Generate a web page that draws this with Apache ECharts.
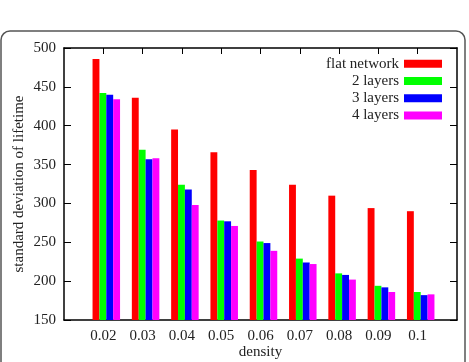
<!DOCTYPE html>
<html lang="en">
<head>
<meta charset="UTF-8">
<title>Document</title>
<style>
  html, body { margin: 0; padding: 0; background: #fff; }
  #chart { width: 469px; height: 362px; }
</style>
</head>
<body>
<div id="chart"></div>
<script src="https://cdn.jsdelivr.net/npm/echarts@6/dist/echarts.min.js"></script>
<script>
    // densities shown on x axis (axis runs from 0.01 to 0.11)
    let densities = ['0.02', '0.03', '0.04', '0.05', '0.06', '0.07', '0.08', '0.09', '0.1'];
    let flatNetwork = [486, 436, 395, 366, 343, 324, 310, 294, 290];
    let layers2 = [442, 369, 324, 278, 251, 229, 210, 194, 186];
    let layers3 = [440, 357, 318, 277, 249, 224, 208, 192, 182];
    let layers4 = [434, 358, 298, 271, 239, 222, 202, 186, 183];
    let seriesNames = ['flat network', '2 layers', '3 layers', '4 layers'];
    let colors = ['#ff0000', '#00ff00', '#0000ff', '#ff00ff'];
    let yTicks = [150, 200, 250, 300, 350, 400, 450, 500];

    let font = 'Liberation Serif';
    let axisCats = ['0.01'].concat(densities, ['0.11']);
    let pad = arr => [null].concat(arr, [null]);
    let inner = (i) => i > 0 && i < axisCats.length - 1;

    var myChart = echarts.init(document.getElementById('chart'));

    let valueAxis = (idx, pos, showLabel) => ({
        type: 'value',
        gridIndex: idx,
        position: pos,
        min: yTicks[0],
        max: yTicks[yTicks.length - 1],
        interval: 50,
        axisLine: { show: true, lineStyle: { color: '#000', width: 1.5 } },
        axisTick: { show: true, inside: true, length: 7, lineStyle: { color: '#000', width: 1 } },
        axisLabel: { show: showLabel, color: '#222', fontFamily: font, fontSize: 15, margin: 8 },
        splitLine: { show: false }
    });

    myChart.setOption({
        animation: false,
        graphic: [{
            type: 'rect',
            shape: { x: 1, y: 31, width: 464, height: 345, r: 9 },
            style: { fill: 'none', stroke: '#555', lineWidth: 1.5 },
            z: -1
        }],
        grid: [
            { left: 64, right: 12, top: 48, bottom: 42, outerBoundsMode: 'none', containLabel: false },
            { left: 67, right: 9, top: 48, bottom: 42, outerBoundsMode: 'none', containLabel: false }
        ],
        legend: {
            data: seriesNames,
            orient: 'vertical',
            align: 'right',
            right: 27,
            top: 55,
            padding: 0,
            itemGap: 0,
            itemWidth: 38,
            itemHeight: 8,
            icon: 'rect',
            textStyle: { color: '#222', fontFamily: font, fontSize: 15, lineHeight: 17.3 }
        },
        xAxis: [{
            type: 'category',
            gridIndex: 0,
            data: axisCats,
            boundaryGap: false,
            name: 'density',
            nameLocation: 'middle',
            nameGap: 25,
            nameMoveOverlap: false,
            nameTextStyle: { color: '#222', fontFamily: font, fontSize: 15 },
            axisLine: { show: true, lineStyle: { color: '#000', width: 1.5 } },
            axisTick: { show: true, inside: true, length: 6, interval: inner, lineStyle: { color: '#000' } },
            axisLabel: { interval: inner, color: '#222', fontFamily: font, fontSize: 15, margin: 9 }
        }, {
            type: 'category',
            gridIndex: 0,
            position: 'top',
            data: axisCats,
            boundaryGap: false,
            axisLine: { show: true, lineStyle: { color: '#000', width: 1.5 } },
            axisTick: { show: true, inside: true, length: 6, interval: inner, lineStyle: { color: '#000' } },
            axisLabel: { show: false }
        }, {
            type: 'category',
            gridIndex: 1,
            data: axisCats,
            boundaryGap: false,
            show: false
        }],
        yAxis: [
            Object.assign(valueAxis(0, 'left', true), {
                name: 'standard deviation of lifetime',
                nameLocation: 'middle',
                nameGap: 37,
                nameMoveOverlap: false,
                nameTextStyle: { color: '#222', fontFamily: font, fontSize: 15 }
            }),
            valueAxis(0, 'right', false),
            { type: 'value', gridIndex: 1, min: yTicks[0], max: yTicks[yTicks.length - 1], show: false }
        ],
        series: [flatNetwork, layers2, layers3, layers4].map((vals, i) => ({
            type: 'bar',
            name: seriesNames[i],
            xAxisIndex: 2,
            yAxisIndex: 2,
            data: pad(vals),
            barGap: '0%',
            barCategoryGap: '30%',
            itemStyle: { color: colors[i] }
        }))
    });
</script>
</body>
</html>
